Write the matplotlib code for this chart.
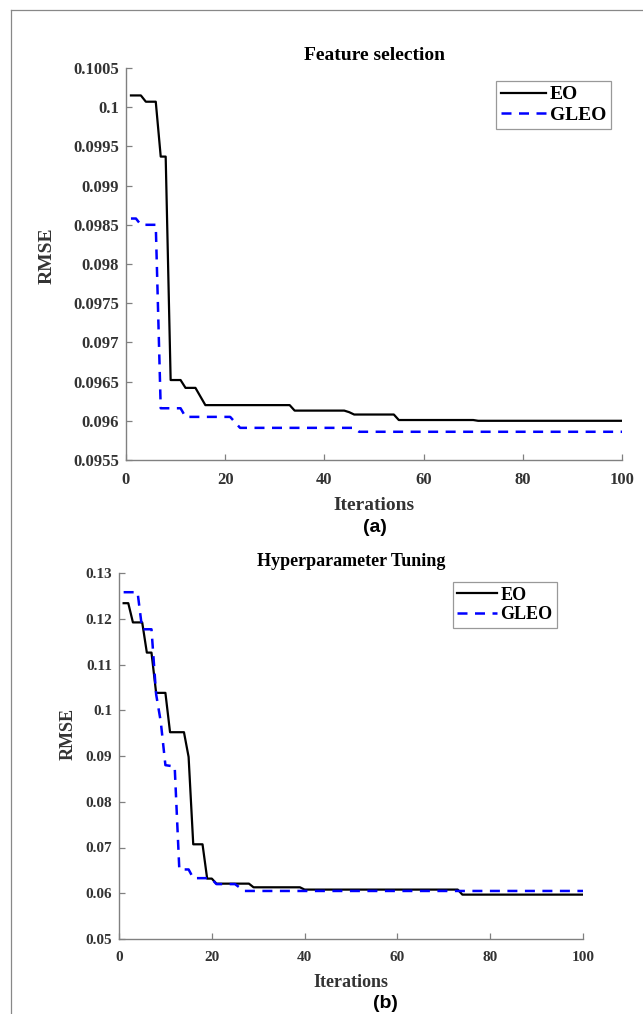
import numpy as np
import matplotlib
matplotlib.use('Agg')
import matplotlib.pyplot as plt
from matplotlib.lines import Line2D

# Feature selection (top) - step breakpoints
fs_eo_x = [1, 3, 4, 6, 7, 8, 9, 11, 12, 14, 16, 33, 34, 44, 45, 46, 54, 55, 70, 71, 100]
fs_eo_y = [0.10015, 0.10015, 0.10007, 0.10007, 0.09937, 0.09937, 0.09652, 0.09652,
           0.09642, 0.09642, 0.09620, 0.09620, 0.09613, 0.09613, 0.09611, 0.09608,
           0.09608, 0.09601, 0.09601, 0.09600, 0.09600]
fs_gleo_x = [1, 2, 3, 6, 7, 11, 12, 21, 23, 46, 47, 100]
fs_gleo_y = [0.09858, 0.09858, 0.09850, 0.09850, 0.09616, 0.09616, 0.09605, 0.09605,
             0.09591, 0.09591, 0.09586, 0.09586]
fs_yticks = [0.0955, 0.096, 0.0965, 0.097, 0.0975, 0.098, 0.0985, 0.099, 0.0995, 0.1, 0.1005]
fs_yticklabels = ['0.0955', '0.096', '0.0965', '0.097', '0.0975', '0.098', '0.0985',
                  '0.099', '0.0995', '0.1', '0.1005']

# Hyperparameter tuning (bottom)
hp_eo_x = [1, 2, 3, 5, 6, 7, 8, 10, 11, 14, 15, 16, 18, 19, 20, 21, 28, 29, 39, 40, 73, 74, 100]
hp_eo_y = [0.1234, 0.1234, 0.1192, 0.1192, 0.1126, 0.1126, 0.1038, 0.1038, 0.0952,
           0.0952, 0.0898, 0.0707, 0.0707, 0.0632, 0.0632, 0.0621, 0.0621, 0.0613,
           0.0613, 0.0608, 0.0608, 0.0597, 0.0597]
hp_gleo_x = [1, 4, 5, 7, 8, 9, 10, 12, 13, 15, 16, 19, 20, 21, 25, 27, 100]
hp_gleo_y = [0.1258, 0.1258, 0.1177, 0.1177, 0.1035, 0.0975, 0.0880, 0.0877, 0.0652,
             0.0652, 0.0633, 0.0633, 0.0631, 0.0620, 0.0620, 0.0605, 0.0605]
hp_yticks = [0.05, 0.06, 0.07, 0.08, 0.09, 0.1, 0.11, 0.12, 0.13]
hp_yticklabels = ['0.05', '0.06', '0.07', '0.08', '0.09', '0.1', '0.11', '0.12', '0.13']

xticks = [0, 20, 40, 60, 80, 100]

serif = 'Liberation Serif'
spine_col = '#808080'
tick_col = '#333333'

fig = plt.figure(figsize=(6.43, 10.14), dpi=100)

# frame lines at left and top of the figure
fig.add_artist(Line2D([11 / 643, 11 / 643], [0, 1 - 10 / 1014], color='#888888', lw=0.9))
fig.add_artist(Line2D([11 / 643, 1], [1 - 10 / 1014, 1 - 10 / 1014], color='#888888', lw=0.9))


def style_axes(ax, tick_size, label_size, title, yticks, yticklabels, title_size,
               xlabelpad, title_pad):
    for s in ['top', 'right']:
        ax.spines[s].set_visible(False)
    for s in ['left', 'bottom']:
        ax.spines[s].set_color(spine_col)
        ax.spines[s].set_linewidth(1.0)
    ax.set_xlim(0, 100)
    ax.set_xticks(xticks)
    ax.set_xticklabels([str(t) for t in xticks])
    ax.set_yticks(yticks)
    ax.set_yticklabels(yticklabels)
    ax.set_ylim(yticks[0], yticks[-1])
    ax.tick_params(direction='in', length=4, color=spine_col, labelcolor=tick_col, width=0.9)
    ax.tick_params(axis='x', pad=8.5)
    ax.tick_params(axis='y', pad=5)
    for lab in ax.get_xticklabels() + ax.get_yticklabels():
        lab.set_fontfamily(serif)
        lab.set_fontweight('bold')
        lab.set_fontsize(tick_size)
    ax.set_xlabel('Iterations', fontfamily=serif, fontweight='bold', fontsize=label_size,
                  color=tick_col, labelpad=xlabelpad)
    ax.set_ylabel('RMSE', fontfamily=serif, fontweight='bold', fontsize=label_size,
                  color=tick_col)
    ax.set_title(title, fontfamily=serif, fontweight='bold', fontsize=title_size, pad=title_pad)


# top axes
ax1 = fig.add_axes([126 / 643, 1 - 460 / 1014, 496 / 643, 392 / 1014])
ax1.plot(fs_eo_x, fs_eo_y, color='black', lw=1.6, label='EO')
ax1.plot(fs_gleo_x, fs_gleo_y, color='blue', lw=1.8, ls=(0, (4, 3)), label='GLEO')
style_axes(ax1, 12, 14, 'Feature selection', fs_yticks, fs_yticklabels, 14, 6.3, 6)
ax1.yaxis.set_label_coords(-0.141, 0.52)
leg1 = ax1.legend(loc='upper right', bbox_to_anchor=(0.978, 0.967), frameon=True,
                  fancybox=False, edgecolor=spine_col, handlelength=2.3, handletextpad=0.2,
                  borderpad=0.25, labelspacing=0.15, borderaxespad=0,
                  prop={'family': serif, 'weight': 'bold', 'size': 14})
leg1.get_frame().set_linewidth(0.9)

# bottom axes
ax2 = fig.add_axes([119 / 643, 1 - 939 / 1014, 464 / 643, 366 / 1014])
ax2.plot(hp_eo_x, hp_eo_y, color='black', lw=1.6, label='EO')
ax2.plot(hp_gleo_x, hp_gleo_y, color='blue', lw=1.8, ls=(0, (4, 3)), label='GLEO')
style_axes(ax2, 11, 13, 'Hyperparameter Tuning', hp_yticks, hp_yticklabels, 13, 7, 5)
ax2.yaxis.set_label_coords(-0.0905, 0.56)
leg2 = ax2.legend(loc='upper right', bbox_to_anchor=(0.944, 0.975), frameon=True,
                  fancybox=False, edgecolor=spine_col, handlelength=2.2, handletextpad=0.2,
                  borderpad=0.25, labelspacing=0.15, borderaxespad=0,
                  prop={'family': serif, 'weight': 'bold', 'size': 13})
leg2.get_frame().set_linewidth(0.9)

fig.text(375 / 643, 1 - 528 / 1014, '(a)', ha='center', va='center',
         fontfamily='Liberation Sans', fontweight='bold', fontsize=14)
fig.text(385 / 643, 1 - 1003 / 1014, '(b)', ha='center', va='center',
         fontfamily='Liberation Sans', fontweight='bold', fontsize=14)

fig.savefig('out.png', dpi=100)
